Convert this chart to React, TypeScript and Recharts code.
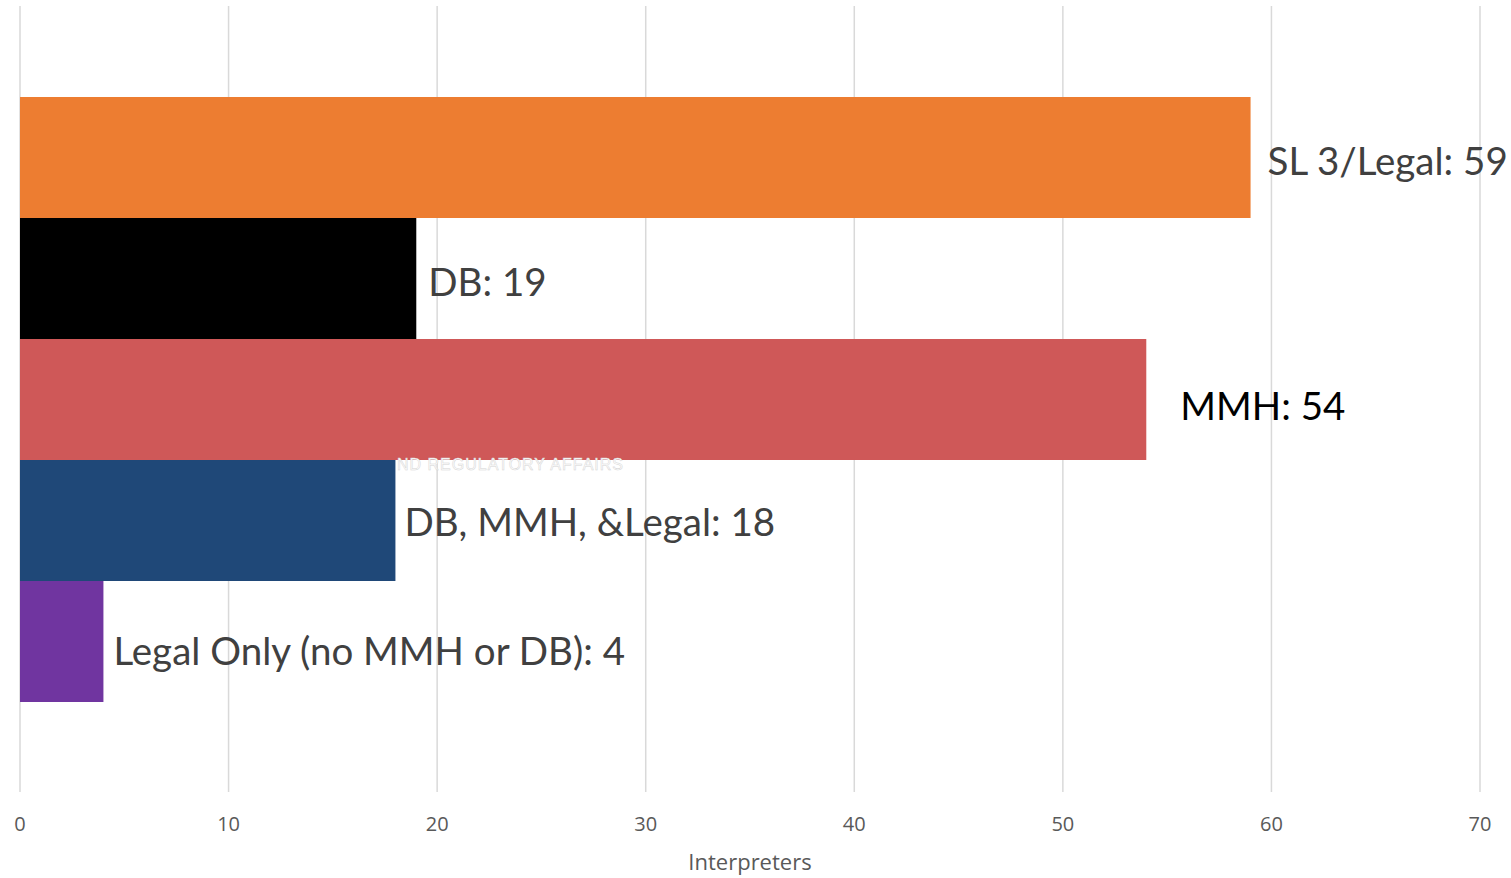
import React from 'react';
import { BarChart, Bar, XAxis, YAxis, CartesianGrid, Cell, LabelList } from 'recharts';

const categories = ['SL 3/Legal', 'DB', 'MMH', 'DB, MMH, &Legal', 'Legal Only (no MMH or DB)'];
const counts = [59, 19, 54, 18, 4];
const xTicks = [0, 10, 20, 30, 40, 50, 60, 70];

const COLORS = ['#ED7D31', '#000000', '#CF5858', '#1F4878', '#7035A0'];
// label nudges, matching where the original labels sit
const LABEL_DX = [17, 12, 34, 9, 10];
const LABEL_DY = [2, 2, 5, 0, 8];
const LABEL_COLORS = ['#404040', '#404040', '#000000', '#404040', '#404040'];

const data = categories.map((name, i) => ({ name, value: counts[i] }));

const BarLabel = (props: any) => {
  const { x, y, width, height, index } = props;
  const d = data[index];
  return (
    <text
      x={x + width + LABEL_DX[index]}
      y={y + height / 2 + LABEL_DY[index]}
      dominantBaseline="central"
      fontSize={38.5}
      fontFamily="Lato, 'Open Sans', sans-serif"
      fill={LABEL_COLORS[index]}
    >
      {`${d.name}: ${d.value}`}
    </text>
  );
};

const App: React.FC = () => {
  return (
    <div style={{ position: 'absolute', left: 0, top: 0, width: 1511, height: 878, background: '#fff' }}>
      <BarChart
        width={1511}
        height={878}
        data={data}
        layout="vertical"
        margin={{ top: 6, right: 31, bottom: 0, left: 20 }}
        barCategoryGap={0}
      >
        <CartesianGrid horizontal={false} stroke="#d9d9d9" strokeWidth={1.5} />
        <XAxis
          type="number"
          domain={[0, 70]}
          ticks={xTicks}
          axisLine={false}
          tickLine={false}
          tickSize={0}
          tickMargin={25}
          height={86}
          interval={0}
          tick={{ fontSize: 20, fill: '#595959', fontFamily: "'Open Sans', sans-serif" }}
          label={{
            value: 'Interpreters',
            position: 'insideBottom',
            offset: 8,
            fontSize: 22,
            fill: '#595959',
            fontFamily: "'Open Sans', sans-serif",
          }}
        />
        <YAxis type="category" dataKey="name" hide padding={{ top: 91, bottom: 90 }} />
        <Bar dataKey="value" isAnimationActive={false}>
          {data.map((entry, i) => (
            <Cell key={`cell-${i}`} fill={COLORS[i]} />
          ))}
          <LabelList dataKey="value" content={<BarLabel />} />
        </Bar>
      </BarChart>
      <div
        style={{
          position: 'absolute',
          left: 397,
          top: 456,
          fontFamily: "'Liberation Sans', sans-serif",
          fontSize: 16,
          color: '#ffffff',
          WebkitTextStroke: '0.5px #d4d4d4',
          letterSpacing: 1,
          whiteSpace: 'nowrap',
        }}
      >
        ND REGULATORY AFFAIRS
      </div>
    </div>
  );
};

export default App;
